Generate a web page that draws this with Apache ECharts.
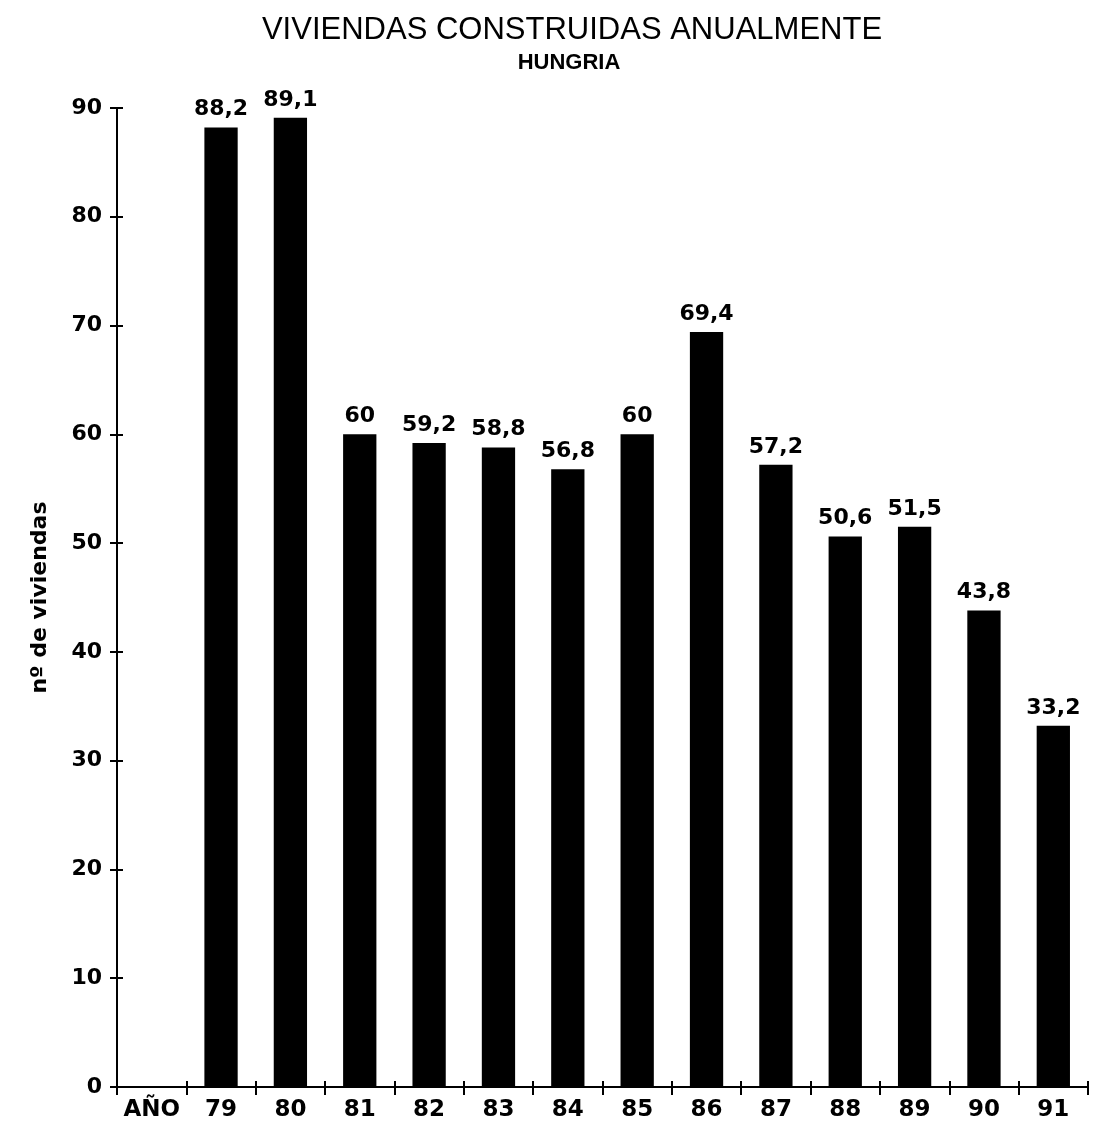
<!DOCTYPE html>
<html><head><meta charset="utf-8">
<script src="https://cdn.jsdelivr.net/npm/echarts@6/dist/echarts.min.js"></script>
<style>html,body{margin:0;padding:0;background:#fff}#c{width:1096px;height:1129px}</style>
</head><body><div id="c"></div>
<script>
const categories = ['AÑO','79','80','81','82','83','84','85','86','87','88','89','90','91'];
const values = ['-',88.2,89.1,60,59.2,58.8,56.8,60,69.4,57.2,50.6,51.5,43.8,33.2];
const yTicks = [0,10,20,30,40,50,60,70,80,90];
const titleText = 'VIVIENDAS CONSTRUIDAS ANUALMENTE';
const subtitleText = 'HUNGRIA';
const yName = 'nº de viviendas';

const F = 'Liberation Sans, Arial, sans-serif';
const D = 'DejaVu Sans, sans-serif';
const chart = echarts.init(document.getElementById('c'), null, {renderer:'canvas'});
chart.setOption({
  backgroundColor:'#fff',
  animation:false,
  title:[
    {text:titleText, left:567, top:10, textAlign:'center', textStyle:{fontFamily:F, fontSize:31, fontWeight:'normal', color:'#000'}},
    {text:subtitleText, left:564, top:47, textAlign:'center', textStyle:{fontFamily:F, fontSize:22, fontWeight:'bold', color:'#000'}}
  ],
  grid:{left:117, right:8, top:108, bottom:42},
  xAxis:[{
    type:'category', data:categories, boundaryGap:true,
    axisLine:{lineStyle:{color:'#000', width:2}},
    axisTick:{show:true, interval:0, length:8, lineStyle:{color:'#000', width:2}},
    axisLabel:{interval:0, color:'#000', fontFamily:D, fontWeight:'bold', fontSize:23, margin:12}
  },{
    type:'category', data:categories, position:'bottom', boundaryGap:true,
    axisLine:{show:false},
    axisTick:{show:true, interval:0, inside:true, length:6, lineStyle:{color:'#000', width:2}},
    axisLabel:{show:false}
  }],
  yAxis:[{
    type:'value', min:0, max:90, interval:10,
    name:yName, nameLocation:'middle', nameGap:66, nameRotate:90,
    nameTextStyle:{fontFamily:D, fontWeight:'bold', fontSize:22, color:'#000'},
    axisLine:{show:true, lineStyle:{color:'#000', width:2}},
    axisTick:{show:true, length:7, lineStyle:{color:'#000', width:2}},
    axisLabel:{color:'#000', fontFamily:D, fontWeight:'bold', fontSize:22, margin:15,
      formatter:v=> yTicks.includes(v)? String(v):''},
    splitLine:{show:false}
  },{
    type:'value', min:0, max:90, interval:10, position:'left',
    axisLine:{show:false},
    axisTick:{show:true, inside:true, length:6, lineStyle:{color:'#000', width:2}},
    axisLabel:{show:false}, splitLine:{show:false}
  }],
  series:[{
    type:'bar', data:values, barWidth:'48%',
    itemStyle:{color:'#000'},
    label:{show:true, position:'top', distance:7, color:'#000', fontFamily:D, fontWeight:'bold', fontSize:22,
      formatter:p=> String(p.value).replace('.',',')}
  }]
});
</script></body></html>
